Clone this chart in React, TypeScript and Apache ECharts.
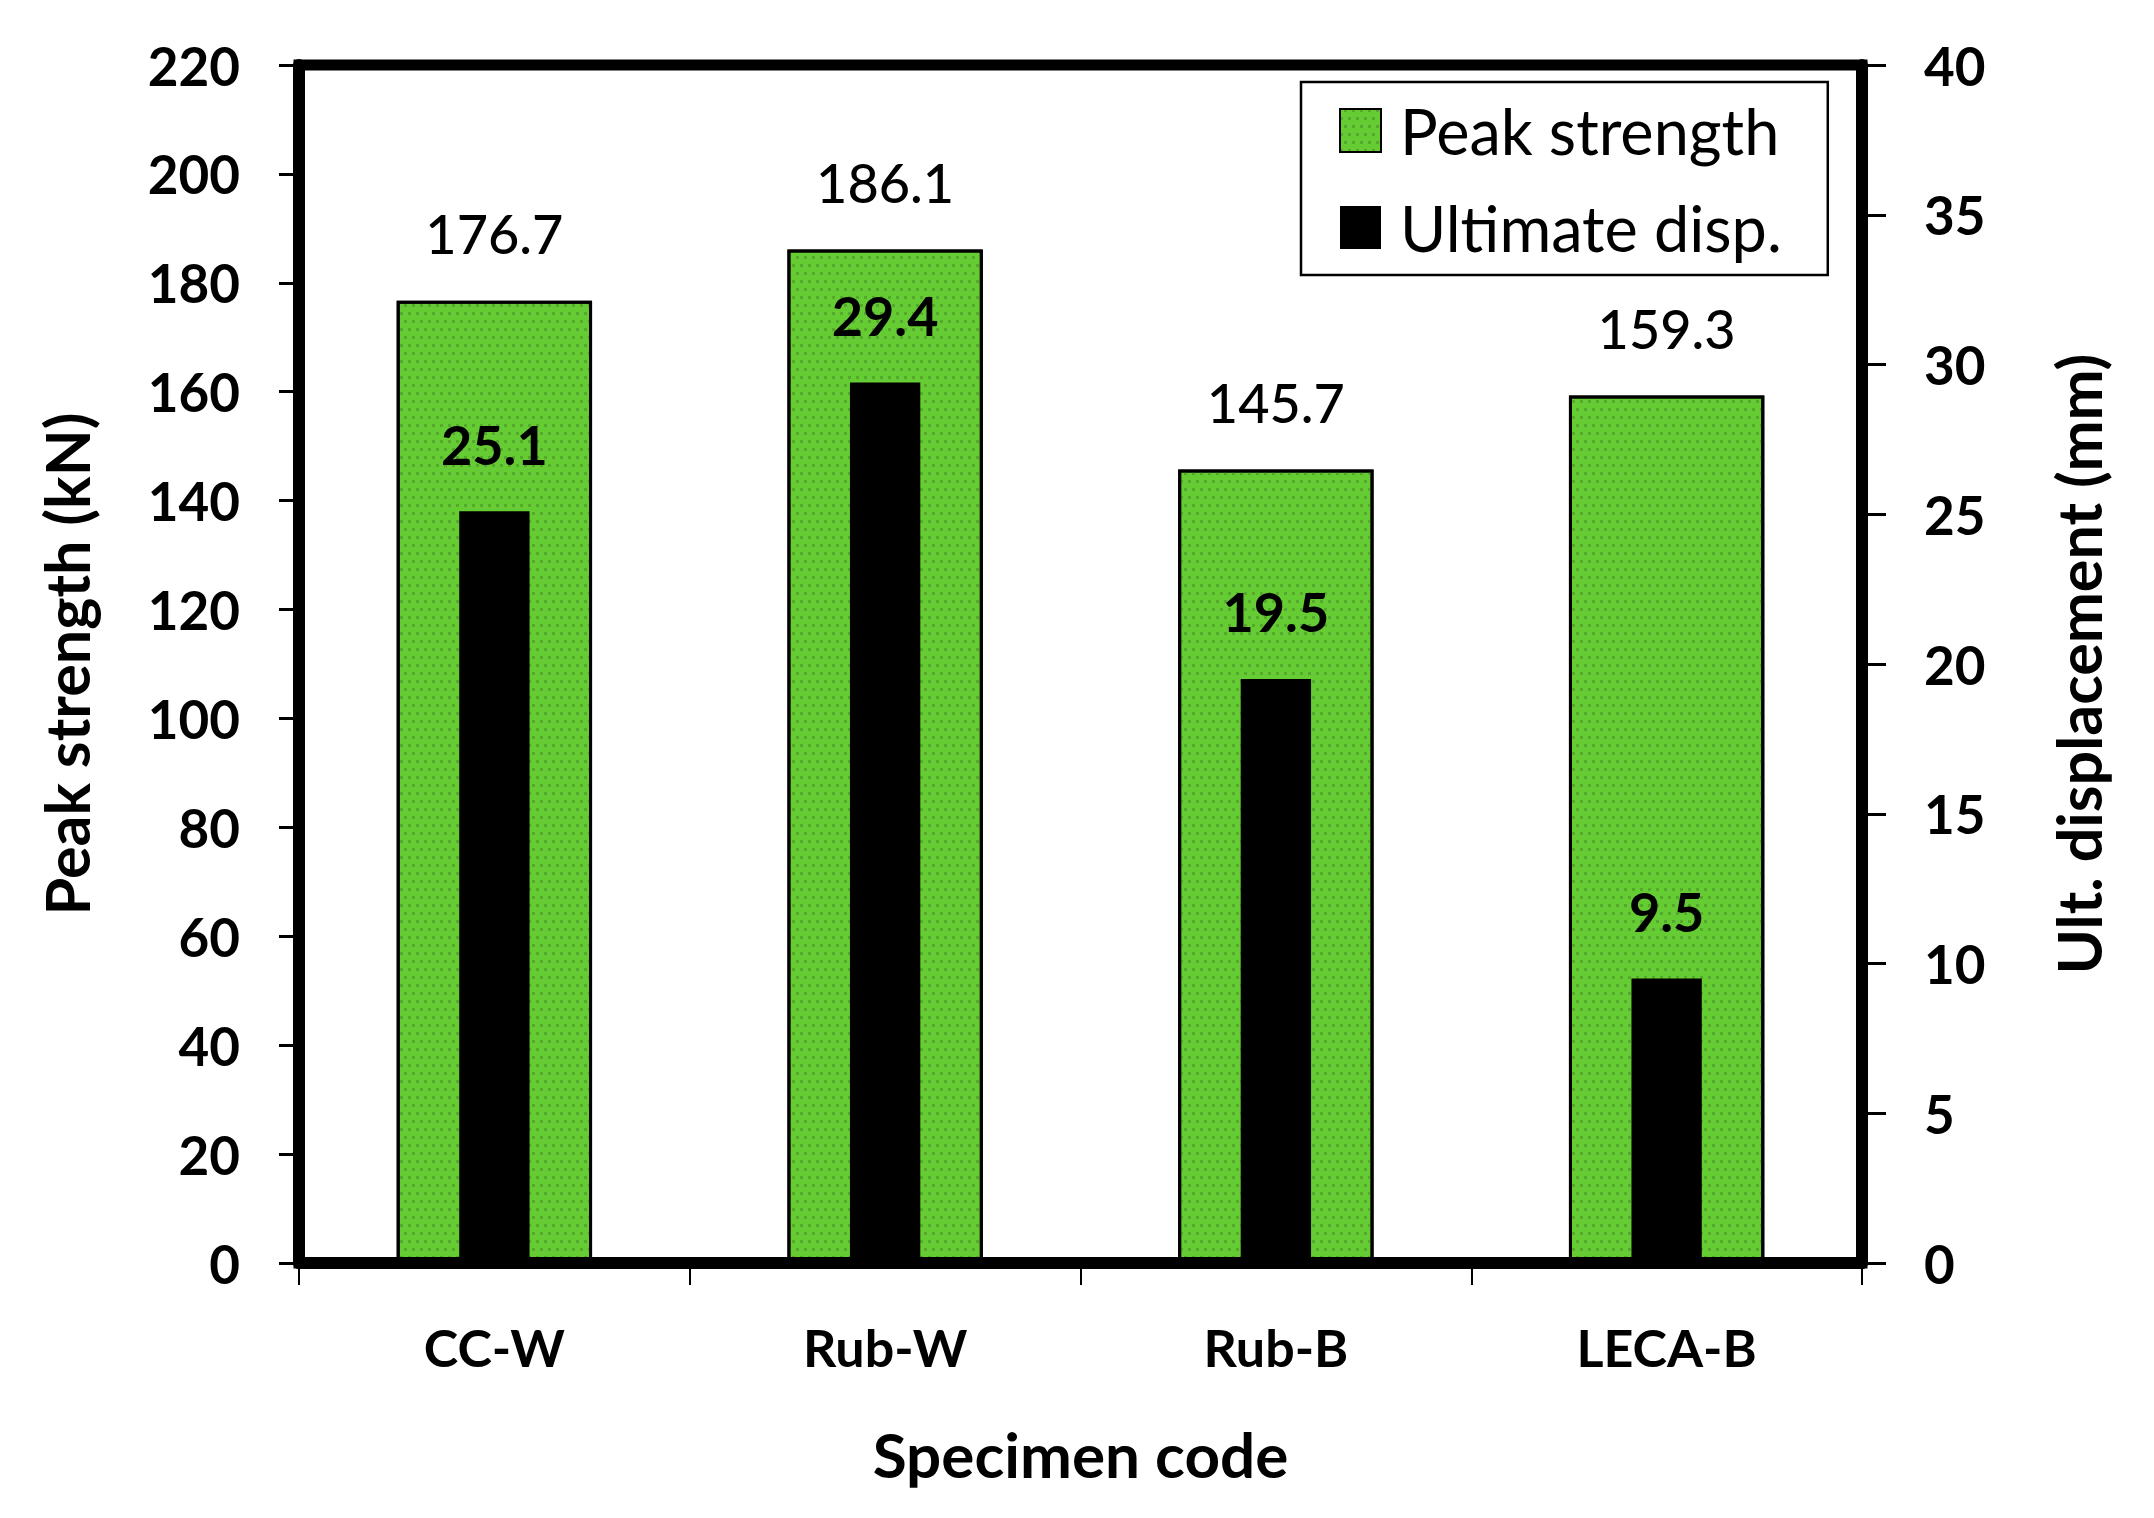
import React, { useEffect, useRef } from "react";
import * as echarts from "echarts";

const categories = ["CC-W", "Rub-W", "Rub-B", "LECA-B"];
const peakStrength = [176.7, 186.1, 145.7, 159.3];
const ultimateDisp = [25.1, 29.4, 19.5, 9.5];
const leftAxis = { min: 0, max: 220, interval: 20 };
const rightAxis = { min: 0, max: 40, interval: 5 };
const seriesNames = ["Peak strength", "Ultimate disp."];
const axisTitles = { x: "Specimen code", left: "Peak strength (kN)", right: "Ult. displacement (mm)" };

const FONT = "Lato";
const GREEN = "#66CC33";

export default function App() {
  const ref = useRef<HTMLDivElement>(null);
  useEffect(() => {
    if (!ref.current) return;
    const chart = echarts.init(ref.current, null, { renderer: "svg" });
    const gridL = 299, gridT = 65, gridR = 2154 - 1862, gridB = 1518 - 1263;
    chart.setOption({
      animation: false,
      backgroundColor: "#ffffff",
      textStyle: { fontFamily: FONT, color: "#000" },
      grid: {
        left: gridL,
        top: gridT,
        right: gridR,
        bottom: gridB,
        show: true,
        borderColor: "#000",
        borderWidth: 11,
        backgroundColor: "transparent",
      },
      legend: {
        orient: "vertical",
        left: 1301,
        top: 82,
        padding: [17, 46, 16, 38],
        borderColor: "#000",
        borderWidth: 2.5,
        backgroundColor: "#fff",
        itemWidth: 41,
        itemHeight: 43,
        itemGap: 34,
        icon: "rect",
        textStyle: {
          fontFamily: FONT,
          fontSize: 63,
          color: "#000",
          padding: [0, 0, 0, 14],
        },
        data: seriesNames,
      },
      xAxis: [
        {
          type: "category",
          data: categories,
          z: 10,
          axisLine: { show: true, lineStyle: { color: "#000", width: 12 } },
          axisTick: { show: true, length: 22, lineStyle: { color: "#000", width: 2 } },
          axisLabel: {
            margin: 58,
            fontFamily: FONT,
            fontSize: 52,
            fontWeight: "bold",
            color: "#000",
          },
          name: axisTitles.x,
          nameLocation: "middle",
          nameGap: 160,
          nameTextStyle: { fontFamily: FONT, fontSize: 62, fontWeight: "bold", color: "#000" },
          splitLine: { show: false },
        },
        {
          type: "category",
          data: categories,
          show: false,
        },
      ],
      yAxis: [
        {
          type: "value",
          position: "left",
          min: leftAxis.min,
          max: leftAxis.max,
          interval: leftAxis.interval,
          axisLine: { show: true, lineStyle: { color: "#000", width: 12 } },
          axisTick: { show: true, length: 20, lineStyle: { color: "#000", width: 3 } },
          axisLabel: {
            margin: 59,
            fontFamily: FONT,
            fontSize: 53,
            fontWeight: "bold",
            color: "#000",
          },
          splitLine: { show: false },
          name: axisTitles.left,
          nameLocation: "middle",
          nameGap: 202,
          nameTextStyle: { fontFamily: FONT, fontSize: 61, fontWeight: "bold", color: "#000" },
        },
        {
          type: "value",
          position: "right",
          min: rightAxis.min,
          max: rightAxis.max,
          interval: rightAxis.interval,
          axisLine: { show: true, lineStyle: { color: "#000", width: 12 } },
          axisTick: { show: true, length: 24, lineStyle: { color: "#000", width: 3 } },
          axisLabel: {
            margin: 62,
            fontFamily: FONT,
            fontSize: 53,
            fontWeight: "bold",
            color: "#000",
          },
          splitLine: { show: false },
          name: axisTitles.right,
          nameLocation: "middle",
          nameGap: 186,
          nameTextStyle: { fontFamily: FONT, fontSize: 61, fontWeight: "bold", color: "#000" },
        },
      ],
      series: [
        {
          name: seriesNames[0],
          type: "bar",
          xAxisIndex: 0,
          yAxisIndex: 0,
          data: peakStrength,
          barWidth: "50%",
          itemStyle: {
            color: GREEN,
            borderColor: "#000",
            borderWidth: 3,
            decal: {
              symbol: "rect",
              symbolSize: 1,
              color: "rgba(70,140,40,0.55)",
              dashArrayX: [[3, 5], [0, 4, 3, 1]],
              dashArrayY: [3, 5],
            },
          },
          label: {
            show: true,
            position: "top",
            distance: 40,
            fontFamily: FONT,
            fontSize: 54,
            fontWeight: 500,
            color: "#000",
            formatter: (p: any) => Number(p.value).toFixed(1),
          },
        },
        {
          name: seriesNames[1],
          type: "bar",
          xAxisIndex: 1,
          yAxisIndex: 1,
          data: ultimateDisp,
          barWidth: "18%",
          itemStyle: { color: "#000" },
          label: {
            show: true,
            position: "top",
            distance: 40,
            fontFamily: FONT,
            fontSize: 54,
            fontWeight: "bold",
            color: "#000",
            formatter: (p: any) => Number(p.value).toFixed(1),
          },
        },
      ],
    });
    return () => chart.dispose();
  }, []);
  return (
    <div
      ref={ref}
      style={{ position: "fixed", left: 0, top: 0, width: 2154, height: 1518, background: "#fff" }}
    />
  );
}
